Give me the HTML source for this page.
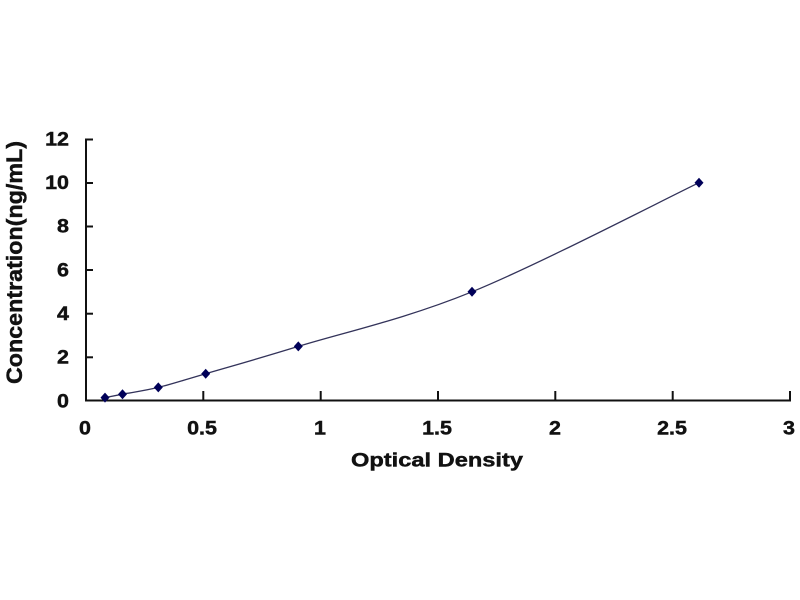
<!DOCTYPE html>
<html>
<head>
<meta charset="utf-8">
<style>
html,body{margin:0;padding:0;background:#fff;}
svg{display:block;}
text{font-family:"Liberation Sans",Arial,sans-serif;font-weight:bold;fill:#111;stroke:#111;stroke-width:0.45;}
</style>
</head>
<body>
<svg width="800" height="600" viewBox="0 0 800 600" xmlns="http://www.w3.org/2000/svg">
<rect width="800" height="600" fill="#fff"/>
<!-- axes -->
<g stroke="#111" stroke-width="2" fill="none">
<line x1="86" y1="138.5" x2="86" y2="401"/>
<line x1="85" y1="400.5" x2="791" y2="400.5"/>
<!-- y ticks (inside) -->
<line x1="86" y1="139.5" x2="93" y2="139.5"/>
<line x1="86" y1="183" x2="93" y2="183"/>
<line x1="86" y1="226.5" x2="93" y2="226.5"/>
<line x1="86" y1="270" x2="93" y2="270"/>
<line x1="86" y1="313.7" x2="93" y2="313.7"/>
<line x1="86" y1="357.3" x2="93" y2="357.3"/>
<!-- x ticks (inside) -->
<line x1="203.3" y1="391" x2="203.3" y2="401"/>
<line x1="320.7" y1="391" x2="320.7" y2="401"/>
<line x1="438" y1="391" x2="438" y2="401"/>
<line x1="555.3" y1="391" x2="555.3" y2="401"/>
<line x1="672.7" y1="391" x2="672.7" y2="401"/>
<line x1="790" y1="391" x2="790" y2="401"/>
</g>
<!-- y tick labels -->
<g font-size="19" text-anchor="end">
<text transform="translate(69,145.5) scale(1.13,1)">12</text>
<text transform="translate(69,189) scale(1.13,1)">10</text>
<text transform="translate(69,232.7) scale(1.13,1)">8</text>
<text transform="translate(69,276.3) scale(1.13,1)">6</text>
<text transform="translate(69,320) scale(1.13,1)">4</text>
<text transform="translate(69,363.7) scale(1.13,1)">2</text>
<text transform="translate(69,407.3) scale(1.13,1)">0</text>
</g>
<!-- x tick labels -->
<g font-size="19" text-anchor="middle">
<text transform="translate(85,434.5) scale(1.13,1)">0</text>
<text transform="translate(202,434.5) scale(1.13,1)">0.5</text>
<text transform="translate(320,434.5) scale(1.13,1)">1</text>
<text transform="translate(437,434.5) scale(1.13,1)">1.5</text>
<text transform="translate(555,434.5) scale(1.13,1)">2</text>
<text transform="translate(672,434.5) scale(1.13,1)">2.5</text>
<text transform="translate(789,434.5) scale(1.13,1)">3</text>
</g>
<!-- axis titles -->
<text x="351" y="466.5" font-size="19.5" textLength="172" lengthAdjust="spacingAndGlyphs">Optical Density</text>
<text transform="translate(22,384) rotate(-90)" font-size="22" textLength="243" lengthAdjust="spacingAndGlyphs">Concentration(ng/mL)</text>
<!-- curve -->
<path d="M105,397.6 C107.9,397.03 113.6,395.9 122.5,394.2 C131.4,392.5 144.4,390.8 158.3,387.4 C172.2,384.0 182.4,380.5 205.7,373.7 C229.0,366.9 253.9,360.05 298.3,346.4 C342.7,332.75 405.2,319.1 472,291.8 C538.8,264.5 661.2,200.9 699,182.7" fill="none" stroke="#33335a" stroke-width="1.3"/>
<!-- markers -->
<g fill="#000058">
<path d="M105,392.6 L109.5,397.6 L105,402.6 L100.5,397.6 Z"/>
<path d="M122.5,389.2 L127,394.2 L122.5,399.2 L118,394.2 Z"/>
<path d="M158.3,382.4 L162.8,387.4 L158.3,392.4 L153.8,387.4 Z"/>
<path d="M205.7,368.7 L210.2,373.7 L205.7,378.7 L201.2,373.7 Z"/>
<path d="M298.3,341.4 L302.8,346.4 L298.3,351.4 L293.8,346.4 Z"/>
<path d="M472,286.8 L476.5,291.8 L472,296.8 L467.5,291.8 Z"/>
<path d="M699,177.7 L703.5,182.7 L699,187.7 L694.5,182.7 Z"/>
</g>
</svg>
</body>
</html>
